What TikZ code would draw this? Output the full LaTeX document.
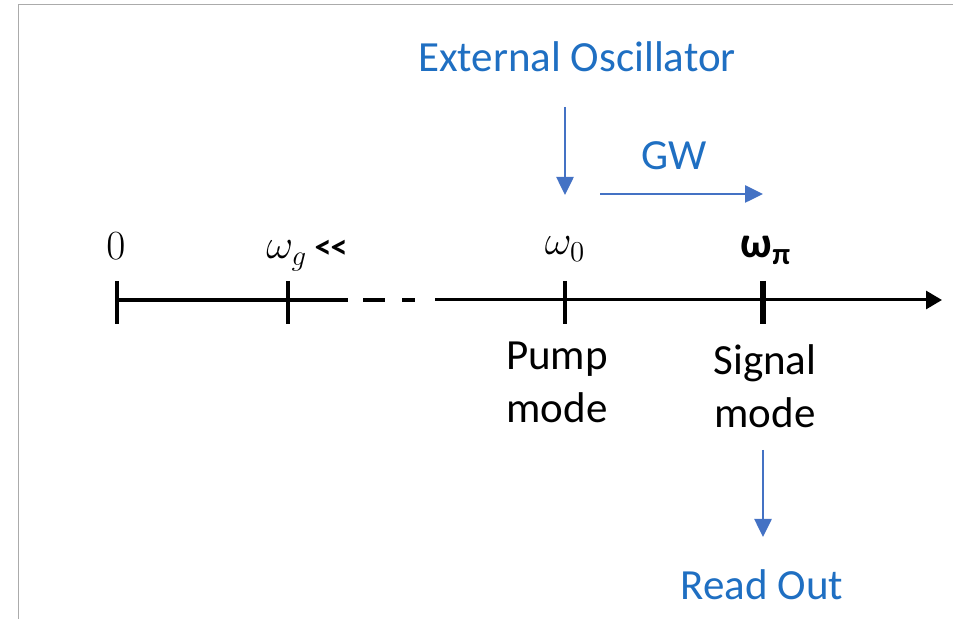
\documentclass[tikz,border=0pt]{standalone}
\usepackage{fontspec}
\setmainfont{Carlito}
\usetikzlibrary{arrows.meta}
\definecolor{LabelBlue}{HTML}{1F6FC2}
\definecolor{ArrowBlue}{HTML}{4472C4}
\definecolor{FrameGray}{HTML}{ABABAB}
\tikzset{
  bluelabel/.style={text=LabelBlue, anchor=base, inner sep=0pt, font=\fontsize{21.5}{26.5}\selectfont},
  modelabel/.style={text=black, anchor=base, align=center, inner sep=0pt, font=\fontsize{21.5}{26.5}\selectfont},
  freqlabel/.style={text=black, anchor=base, inner sep=0pt, font=\fontsize{22.5}{26}\selectfont},
  bluearrow/.style={-{Triangle[length=9pt, width=8.5pt]}, line width=1.3pt, draw=ArrowBlue},
  axisarrow/.style={-{Triangle[length=8pt, width=9pt]}, line width=1.5pt},
  axisline/.style={line width=2pt},
  gapline/.style={line width=1.8pt, dash pattern=on 0pt off 7.5pt on 11pt off 8.5pt on 6.5pt off 10pt},
  axistick/.style={line width=2pt},
  bigtick/.style={line width=3pt}
}

\begin{document}
\begin{tikzpicture}[x=0.5pt, y=-0.5pt]
\useasboundingbox (0,0) rectangle (953,619);
\draw[FrameGray, line width=0.5pt] (18,619) -- (18,4.5) -- (953,4.5);

\coordinate (origin) at (117,300);
\coordinate (wgtick) at (288,300);
\coordinate (gapstart) at (348,300);
\coordinate (gapend) at (435,300);
\coordinate (pumptick) at (565,300);
\coordinate (signaltick) at (763,300);
\coordinate (axisend) at (942,300);

\draw[axisline] (origin) -- (gapstart);
\draw[gapline] (gapstart) -- (gapend);
\draw[axisarrow] (gapend) -- (axisend);
\foreach \t in {origin, wgtick, pumptick}
  \draw[axistick] (\t) ++(0,-19) -- ++(0,43);
\draw[bigtick] (signaltick) ++(0,-19) -- ++(0,43);

\node[freqlabel] (zero) at (116,260) {$0$};
\node[freqlabel, anchor=base west] (wg) at (266,259) {$\omega_g$\,{\fontsize{17}{20}\selectfont\bfseries{<}\kern-0.5pt{<}}};
\node[freqlabel] (w0) at (565,255) {$\omega_0$};
\node[modelabel, font=\fontsize{22}{26.5}\selectfont\bfseries] (wpi) at (766,258) {ω\textsubscript{π}};

\node[modelabel] (pump) at (557,423) {Pump\\mode};
\node[modelabel] (signal) at (765,428) {Signal\\mode};

\node[bluelabel] (osc) at (577,72) {External Oscillator};
\node[bluelabel] (gw) at (674,170) {GW};
\node[bluelabel] (readout) at (762,600) {Read Out};

\coordinate (oscfrom) at (565,107);
\coordinate (oscto) at (565,195);
\coordinate (gwfrom) at (600,194);
\coordinate (gwto) at (763,194);
\coordinate (readfrom) at (763,450);
\coordinate (readto) at (763,537);
\draw[bluearrow] (oscfrom) -- (oscto);
\draw[bluearrow] (gwfrom) -- (gwto);
\draw[bluearrow] (readfrom) -- (readto);
\end{tikzpicture}
\end{document}
